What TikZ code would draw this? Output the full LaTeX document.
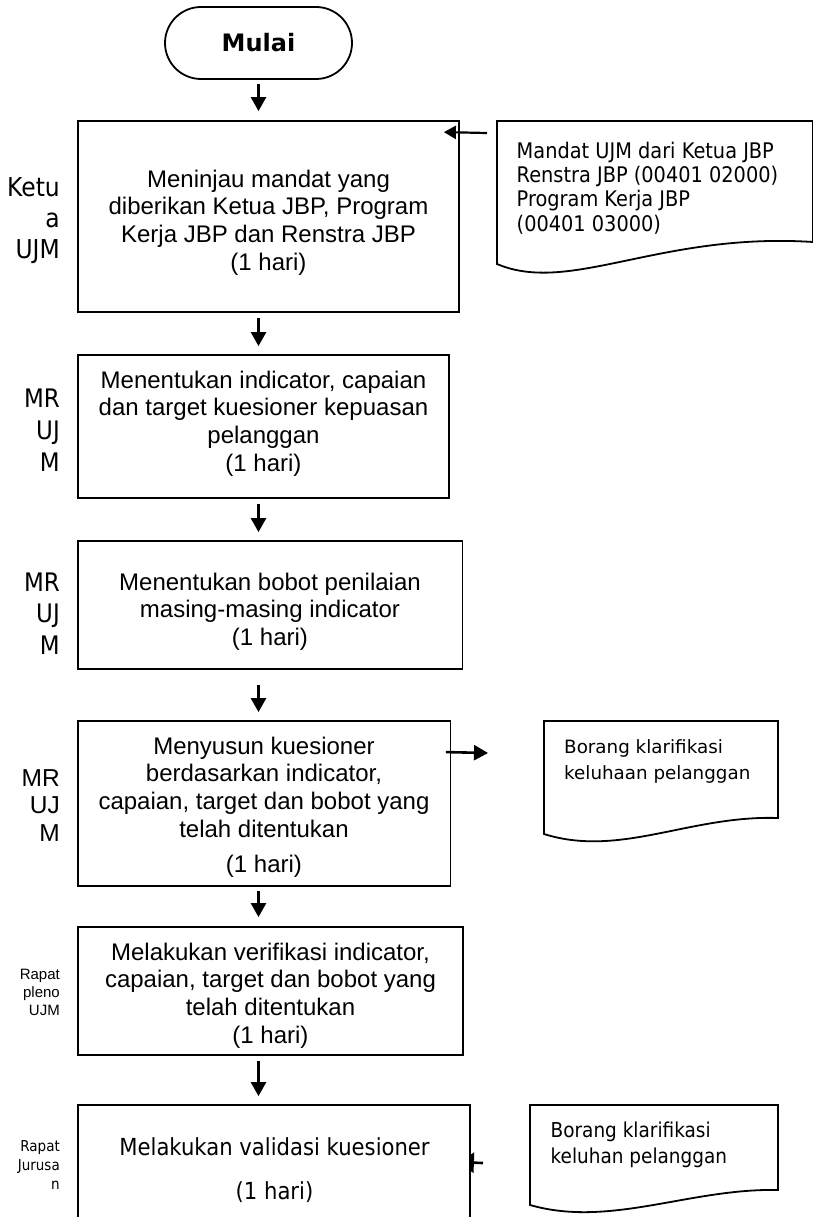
\documentclass[tikz,border=0pt]{standalone}
\usepackage{fontspec}
\setmainfont{Liberation Sans}
\newfontfamily\tahfont[FakeStretch=0.9]{DejaVu Sans}
\newfontfamily\verdfont{DejaVu Sans}
\usetikzlibrary{arrows.meta,calc,backgrounds}

\begin{document}
\begin{tikzpicture}[x=1pt,y=-1pt,
  stepbox/.style={draw, line width=1.8pt, fill=white, inner sep=0pt},
  startbox/.style={draw, line width=1.8pt, rounded corners=36pt,
    minimum width=187pt, minimum height=72pt, inner sep=0pt,
    font=\verdfont\bfseries\fontsize{24}{28}\selectfont},
  docshape/.style={draw, line width=1.8pt, fill=white},
  flow/.style={line width=2.6pt, -{Triangle[length=14pt,width=15pt]}},
  thinflow/.style={line width=2.2pt, -{Triangle[length=12pt,width=13pt]}},
  body/.style={align=center, inner sep=0pt, font=\fontsize{24}{27.6}\selectfont},
  tahbody/.style={align=center, inner sep=0pt, font=\tahfont\fontsize{23.5}{28}\selectfont},
  lab/.style={align=right, anchor=east, inner sep=0pt},
  doctext/.style={align=left, anchor=west, inner sep=0pt}
]
\useasboundingbox (0,0) rectangle (812,1217);

% start terminal
\node[startbox] (mulai) at (258.5,43) {Mulai};

% process steps
\node[stepbox, minimum width=381pt, minimum height=191pt] (b1) at (268.5,216.5) {};
\node[stepbox, minimum width=371pt, minimum height=143pt] (b2) at (263.5,426.5) {};
\node[stepbox, minimum width=384.5pt, minimum height=128pt] (b3) at (270.25,605) {};
\node[stepbox, minimum width=372.5pt, minimum height=165pt] (b4) at (264.25,803.5) {};
\node[stepbox, minimum width=385pt, minimum height=128pt] (b5) at (270.5,991) {};
\node[stepbox, minimum width=392pt, minimum height=130pt] (b6) at (274,1170) {};

% step texts
\node[body] (t1) at (268.5,222.5) {Meninjau mandat yang\\diberikan Ketua JBP, Program\\Kerja JBP dan Renstra JBP\\(1 hari)};
\node[body] (t2) at (263.5,423.5) {Menentukan indicator, capaian\\dan target kuesioner kepuasan\\pelanggan\\(1 hari)};
\node[body] (t3) at (270,611.5) {Menentukan bobot penilaian\\masing-masing indicator\\(1 hari)};
\node[body] (t4) at (264,807) {Menyusun kuesioner\\berdasarkan indicator,\\capaian, target dan bobot yang\\telah ditentukan\\[7.5pt](1 hari)};
\node[body] (t5) at (270.5,995.5) {Melakukan verifikasi indicator,\\capaian, target dan bobot yang\\telah ditentukan\\(1 hari)};
\node[tahbody] (t6) at (274.5,1170) {Melakukan validasi kuesioner\\[16.5pt](1 hari)};

% actors
\node[lab, font=\tahfont\fontsize{26}{31}\selectfont] (l1) at (60,221) {Ketu\\a\\UJM};
\node[lab, font=\tahfont\fontsize{25.5}{32}\selectfont] (l2) at (60,430) {MR\\UJ\\M};
\node[lab, font=\tahfont\fontsize{25.5}{31.5}\selectfont] (l3) at (60,613.5) {MR\\UJ\\M};
\node[lab, font=\fontsize{24.5}{27.5}\selectfont] (l4) at (60,805.5) {MR\\UJ\\M};
\node[lab, font=\fontsize{15}{18}\selectfont] (l5) at (60,992) {Rapat\\pleno\\UJM};
\node[lab, font=\tahfont\fontsize{15}{19}\selectfont] (l6) at (60,1165) {Rapat\\Jurusa\\n};

% documents
\coordinate (d1tl) at (497,121);
\draw[docshape] (d1tl) -- (813,121) -- (813,242)
  .. controls (660,232) and (570,295) .. (497,264) -- cycle;
\node[doctext, font=\tahfont\fontsize{21.5}{24.3}\selectfont] (d1) at (516.5,188)
  {Mandat UJM dari Ketua JBP\\Renstra JBP (00401 02000)\\Program Kerja JBP\\(00401 03000)};

\coordinate (d2tl) at (544,721);
\draw[docshape] (d2tl) -- (778,721) -- (778,818)
  .. controls (690,815) and (620,858) .. (544,834) -- cycle;
\node[doctext, font=\verdfont\fontsize{18.3}{26}\selectfont] (d2) at (564,761)
  {Borang klarifikasi\\keluhaan pelanggan};

\coordinate (d3tl) at (530,1105);
\draw[docshape] (d3tl) -- (778,1105) -- (778,1190)
  .. controls (690,1188) and (610,1228) .. (530,1205) -- cycle;
\node[doctext, font=\tahfont\fontsize{20.5}{26}\selectfont] (d3) at (550.5,1145)
  {Borang klarifikasi\\keluhan pelanggan};

% main flow
\draw[flow] ($(mulai.south)+(0,4)$) -- ($(mulai.south |- b1.north)+(0,-9)$);
\draw[flow] ($(b1.south -| mulai.south)+(0,5)$) -- ($(b2.north -| mulai.south)+(0,-8)$);
\draw[flow] ($(b2.south -| mulai.south)+(0,5)$) -- ($(b3.north -| mulai.south)+(0,-8)$);
\draw[flow] ($(b3.south -| mulai.south)+(0,15)$) -- ($(b4.north -| mulai.south)+(0,-8)$);
\draw[flow] ($(b4.south -| mulai.south)+(0,4)$) -- ($(b5.north -| mulai.south)+(0,-9)$);
\draw[flow] ($(b5.south -| mulai.south)+(0,5)$) -- ($(b6.north -| mulai.south)+(0,-8)$);

% document links
\draw[thinflow] ($(d1tl)+(-10,12)$) -- ($(b1.north east)+(-16,12)$);
\draw[flow] ($(b4.north east)+(-5.5,32)$) -- ($(d2tl)+(-56,32)$);
\begin{scope}[on background layer]
  \draw[line width=2.6pt, -{Triangle[length=16pt,width=20pt]}]
    ($(d3tl)+(-47,58)$) -- ($(b6.north east)+(-13,58)$);
\end{scope}

\end{tikzpicture}
\end{document}
